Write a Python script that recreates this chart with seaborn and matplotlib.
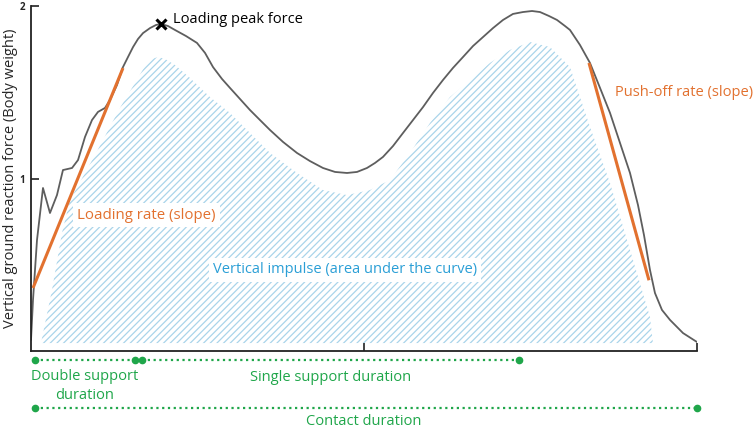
import numpy as np
import pandas as pd
import matplotlib
matplotlib.use("Agg")
import matplotlib.pyplot as plt
import seaborn as sns

# ------------------------------
# Data (percent of stance, body weight)
# ------------------------------
stance_pct = [0.0, 0.30, 0.90, 1.80, 2.85, 3.90, 4.80, 6.16, 7.06, 8.11, 9.16,
              10.06, 11.11, 11.86, 12.91, 13.81, 14.56, 15.32, 16.07, 16.82,
              17.87, 18.77, 19.52, 20.57, 21.62, 23.27, 24.92, 26.13, 27.33,
              28.68, 29.88, 31.38, 32.88, 34.38, 35.89, 37.84, 39.94, 41.89,
              43.84, 45.65, 47.45, 48.95, 50.45, 51.65, 52.85, 54.35, 55.86,
              57.36, 58.86, 60.36, 61.86, 63.36, 64.86, 66.37, 67.87, 69.37,
              70.87, 72.37, 73.87, 75.23, 76.43, 77.78, 78.98, 80.18, 80.93,
              82.43, 83.93, 85.44, 86.94, 88.44, 89.94, 91.14, 92.04, 92.94,
              93.69, 94.74, 95.95, 97.90, 100.0]
vgrf_bw = [0.064, 0.296, 0.643, 0.945, 0.800, 0.904, 1.049, 1.061, 1.107, 1.241,
           1.339, 1.386, 1.409, 1.455, 1.542, 1.646, 1.704, 1.762, 1.809, 1.843,
           1.872, 1.890, 1.896, 1.884, 1.861, 1.826, 1.786, 1.728, 1.646,
           1.577, 1.525, 1.461, 1.397, 1.339, 1.281, 1.212, 1.148, 1.101,
           1.061, 1.038, 1.032, 1.038, 1.061, 1.090, 1.125, 1.188, 1.264,
           1.339, 1.414, 1.496, 1.571, 1.641, 1.704, 1.768, 1.820, 1.872,
           1.919, 1.954, 1.965, 1.971, 1.965, 1.942, 1.919, 1.884, 1.861,
           1.774, 1.670, 1.525, 1.380, 1.206, 1.032, 0.846, 0.672, 0.470,
           0.336, 0.238, 0.180, 0.104, 0.052]

# impulse (hatched) region outline
impulse_x = [1.50, 3.15, 4.65, 5.86, 9.61, 13.36, 15.62, 17.12, 18.17, 19.07,
             20.12, 21.62, 23.87, 26.88, 29.88, 32.88, 35.89, 39.94, 43.84,
             47.45, 50.90, 53.90, 56.91, 59.91, 62.91, 65.92, 68.92, 71.92,
             74.92, 77.93, 80.93, 83.93, 86.94, 89.94, 92.94, 93.39]
impulse_y = [0.046, 0.354, 0.684, 0.875, 1.136, 1.409, 1.554, 1.652, 1.693,
             1.704, 1.693, 1.658, 1.583, 1.472, 1.380, 1.264, 1.148, 1.032,
             0.933, 0.904, 0.933, 0.991, 1.148, 1.322, 1.472, 1.571, 1.670,
             1.745, 1.791, 1.762, 1.646, 1.299, 0.974, 0.586, 0.197, 0.046]
impulse_base = 0.046

loading_rate_x = [0.3, 13.81]
loading_rate_y = [0.365, 1.64]
pushoff_rate_x = [83.78, 92.79]
pushoff_rate_y = [1.67, 0.41]

peak_x, peak_y = 19.52, 1.896

double_support = [0.6, 15.6]
single_support = [16.67, 73.27]
contact = [0.6, 100.0]

# ------------------------------
# Style
# ------------------------------
sns.set_style("white")
plt.rcParams["font.family"] = ["Open Sans", "DejaVu Sans"]
plt.rcParams["hatch.linewidth"] = 0.9

orange = "#e2712f"
blue = "#2b9fd6"
green = "#1fa64a"
hatch_col = "#a9d4ea"

fig = plt.figure(figsize=(7.53, 4.30), dpi=100)
ax = fig.add_axes([31 / 753, 79 / 430, 666 / 753, 345 / 430])

# hatched impulse area
ax.fill_between(impulse_x, impulse_base, impulse_y, facecolor="none",
                edgecolor=hatch_col, hatch="/////", linewidth=0)

# force curve
df = pd.DataFrame({"pct": stance_pct, "bw": vgrf_bw})
sns.lineplot(data=df, x="pct", y="bw", sort=False, color="#5e5e5e",
             linewidth=1.3, ax=ax)

# slopes
ax.plot(loading_rate_x, loading_rate_y, color=orange, lw=2.2, solid_capstyle="butt")
ax.plot(pushoff_rate_x, pushoff_rate_y, color=orange, lw=2.2, solid_capstyle="butt")

# peak marker
ax.plot([peak_x], [peak_y], marker="x", color="black", markersize=7, mew=2.2)
ax.text(peak_x + 1.8, peak_y + 0.023, "Loading peak force", fontsize=10.5,
        color="black", va="center", ha="left")

box = dict(facecolor="white", edgecolor="none", pad=3)
ax.text(6.91, 0.788, "Loading rate (slope)", fontsize=10.8, color=orange,
        va="center", ha="left", bbox=box)
ax.text(27.33, 0.47, "Vertical impulse (area under the curve)", fontsize=10.5,
        color=blue, va="center", ha="left", bbox=box)
ax.text(87.69, 1.501, "Push-off rate (slope)", fontsize=10.5, color=orange,
        va="center", ha="left")

# durations under the axis
for seg, yy in [(double_support, -0.052), (single_support, -0.052), (contact, -0.33)]:
    ax.plot(seg, [yy, yy], color=green, ls=(0, (1, 1.6)), lw=1.6, clip_on=False)
    ax.plot(seg, [yy, yy], color=green, ls="none", marker="o", markersize=4.5,
            clip_on=False)

ax.text(np.mean(double_support), -0.203, "Double support\nduration", fontsize=10.5,
        color=green, ha="center", va="center", linespacing=1.3)
ax.text(np.mean(single_support), -0.151, "Single support duration", fontsize=10.5,
        color=green, ha="center", va="center")
ax.text(50, -0.41, "Contact duration", fontsize=10.5, color=green,
        ha="center", va="center")

# axes
ax.set_xlim(0, 100)
ax.set_ylim(0, 2)
ax.set_xticks([50, 100])
ax.set_xticklabels([])
ax.set_yticks([1, 2])
ax.set_yticklabels(["1", "2"], fontsize=7, fontweight="bold")
ax.tick_params(axis="both", direction="in", length=6, width=1.2, color="#222222",
               left=True, bottom=True, pad=4)
ax.set_xlabel("")
ax.set_ylabel("Vertical ground reaction force (Body weight)", fontsize=10.5)
ax.yaxis.set_label_coords(-0.019, 0.5)
for s in ["top", "right"]:
    ax.spines[s].set_visible(False)
for s in ["left", "bottom"]:
    ax.spines[s].set_color("#222222")
    ax.spines[s].set_linewidth(1.3)

fig.savefig("out.png", dpi=100)
